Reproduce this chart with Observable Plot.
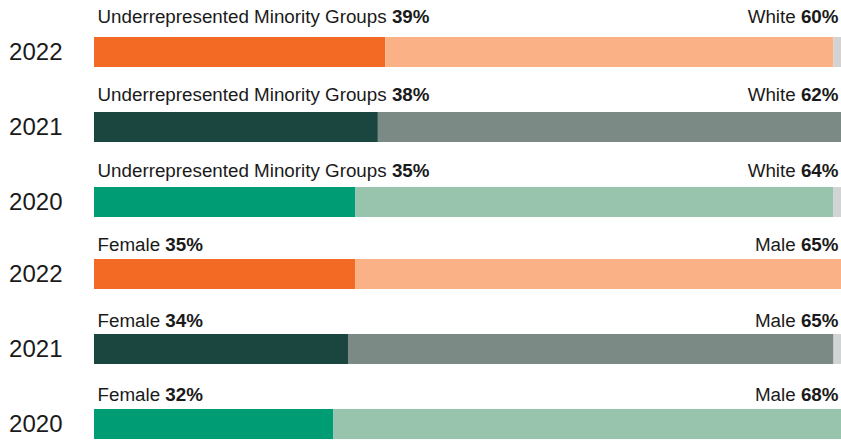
<!DOCTYPE html>
<html>
<head>
<meta charset="utf-8">
<script src="https://cdn.jsdelivr.net/npm/d3@7"></script>
<script src="https://cdn.jsdelivr.net/npm/@observablehq/plot@0.6"></script>
<style>
  html, body { margin: 0; padding: 0; background: #fff; }
  svg { display: block; }
</style>
</head>
<body>
<div id="chart"></div>
<script>
const years = ["2022", "2021", "2020"];
const minority = [39, 38, 35];
const white = [60, 62, 64];
const raceOther = [1, 0, 1];
const female = [35, 34, 32];
const male = [65, 65, 68];
const genderOther = [0, 1, 0];
const darkColors = ["#F26A24", "#1B453F", "#009C73"];
const lightColors = ["#F9B185", "#7B8A85", "#98C3AD"];
const otherColor = "#D2D3D5";
const fontFamily = "'Liberation Sans', Arial, Helvetica, sans-serif";

function makePlot(leftName, leftVals, rightName, rightVals, otherVals, marginBottom, labelOffsets) {
  const rows = years.flatMap((y, i) => [
    {year: y, value: leftVals[i], fill: darkColors[i]},
    {year: y, value: rightVals[i], fill: lightColors[i]},
    {year: y, value: otherVals[i], fill: otherColor}
  ]);
  const labels = years.map((y, i) => ({
    year: y,
    left: `${leftName} ${leftVals[i]}%`,
    right: `${rightName} ${rightVals[i]}%`
  }));
  const labelMarks = labels.flatMap((d, i) => [
    Plot.text([d], {x: 0, y: "year", text: "left", textAnchor: "start", lineAnchor: "bottom", dx: 3, dy: labelOffsets[i], fontSize: 18.8, fill: "#1a1a1a"}),
    Plot.text([d], {x: 100, y: "year", text: "right", textAnchor: "end", lineAnchor: "bottom", dx: -3, dy: labelOffsets[i], fontSize: 18.8, fill: "#1a1a1a"})
  ]);
  const svg = Plot.plot({
    width: 841,
    height: 221,
    marginLeft: 94,
    marginRight: 0,
    marginTop: 37,
    marginBottom,
    x: {domain: [0, 100], axis: null},
    y: {domain: years, paddingInner: 0.6, paddingOuter: 0},
    color: {type: "identity"},
    style: {fontFamily, color: "#1a1a1a", background: "#fff"},
    marks: [
      Plot.barX(rows, {x: "value", y: "year", fill: "fill"}),
      Plot.axisY({tickSize: 0, tickPadding: 32, fontSize: 24, label: null}),
      ...labelMarks
    ]
  });
  svg.querySelectorAll('g[aria-label="text"] text').forEach(el => {
    const content = el.textContent;
    const idx = content.lastIndexOf(" ");
    el.textContent = "";
    const ns = "http://www.w3.org/2000/svg";
    const t1 = document.createElementNS(ns, "tspan");
    t1.textContent = content.slice(0, idx + 1);
    t1.setAttribute("style", "white-space: pre");
    const t2 = document.createElementNS(ns, "tspan");
    t2.textContent = content.slice(idx + 1);
    t2.setAttribute("font-weight", "bold");
    el.appendChild(t1);
    el.appendChild(t2);
  });
  return svg;
}

const chart = document.getElementById("chart");
chart.appendChild(makePlot("Underrepresented Minority Groups", minority, "White", white, raceOther, 4, [-29.3, -26.3, -26]));
chart.appendChild(makePlot("Female", female, "Male", male, genderOther, 2, [-23.8, -23, -23.1]));
</script>
</body>
</html>
